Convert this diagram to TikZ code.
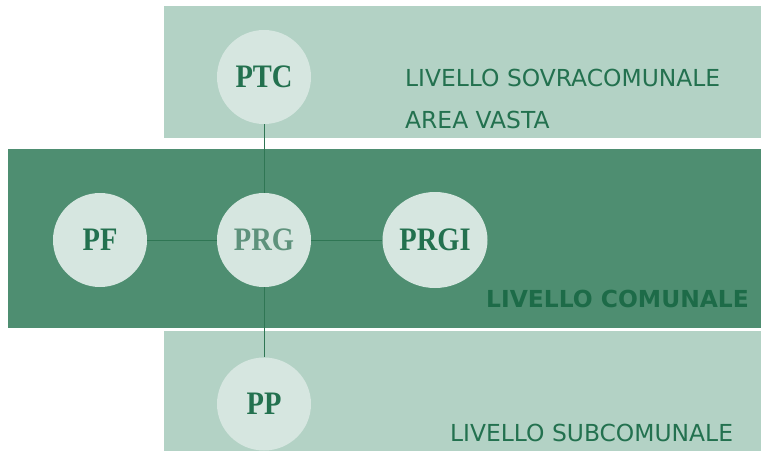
\documentclass[tikz,border=0pt]{standalone}
\usepackage{fontspec}
\setmainfont{DejaVu Sans}
\newfontfamily\labelfont{Liberation Serif}
\usetikzlibrary{shapes.geometric}
\definecolor{bandlight}{HTML}{B3D2C5}
\definecolor{banddark}{HTML}{4E8E71}
\definecolor{ellfill}{HTML}{D6E6E0}
\definecolor{txtgreen}{HTML}{23714F}
\definecolor{txtdark}{HTML}{1D6B48}
\definecolor{prgtxt}{HTML}{5E927C}
\definecolor{linegreen}{HTML}{2F7654}
\newcommand{\tall}[1]{\scalebox{1}[1.15]{#1}}
\tikzset{
  bubble/.style={ellipse, fill=ellfill, draw=none, minimum width=94pt, minimum height=94pt, inner sep=0pt,
    font=\labelfont\bfseries\fontsize{28.5}{30}\selectfont, text=txtgreen},
  leveltext/.style={anchor=base west, inner sep=0pt, font=\fontsize{23.4}{28}\selectfont, text=txtgreen},
  link/.style={draw=linegreen, line width=0.9pt}
}
\begin{document}
\begin{tikzpicture}[x=1pt,y=-1pt]
\useasboundingbox (0,0) rectangle (761,451);
\fill[white] (0,0) rectangle (761,451);
% bands
\fill[bandlight] (164,6) rectangle (761,138);
\fill[banddark] (8,149) rectangle (761,328);
\fill[bandlight] (164,331) rectangle (761,451);
% bubbles
\node[bubble] (PTC) at (264,77) {\tall{PTC}};
\node[bubble] (PRG) at (264,240) {\textcolor{prgtxt}{\tall{PRG}}};
\node[bubble] (PF) at (100,240) {\tall{PF}};
\node[bubble, minimum width=105pt, minimum height=96pt] (PRGI) at (435,240) {\tall{PRGI}};
\node[bubble, minimum height=93pt] (PP) at (264,404) {\tall{PP}};
% connectors
\draw[link] (PTC.south) -- (PRG.north);
\draw[link] (PRG.south) -- (PP.north);
\draw[link] (PF.east) -- (PRG.west);
\draw[link] (PRG.east) -- (PRGI.west);
% level texts
\node[leveltext] (t1) at (405,86) {LIVELLO SOVRACOMUNALE};
\node[leveltext] (t2) at (405,128) {AREA VASTA};
\node[leveltext, font=\bfseries\fontsize{23.4}{28}\selectfont, text=txtdark] (t3) at (486,307) {LIVELLO COMUNALE};
\node[leveltext] (t4) at (450,441) {LIVELLO SUBCOMUNALE};
\end{tikzpicture}
\end{document}
